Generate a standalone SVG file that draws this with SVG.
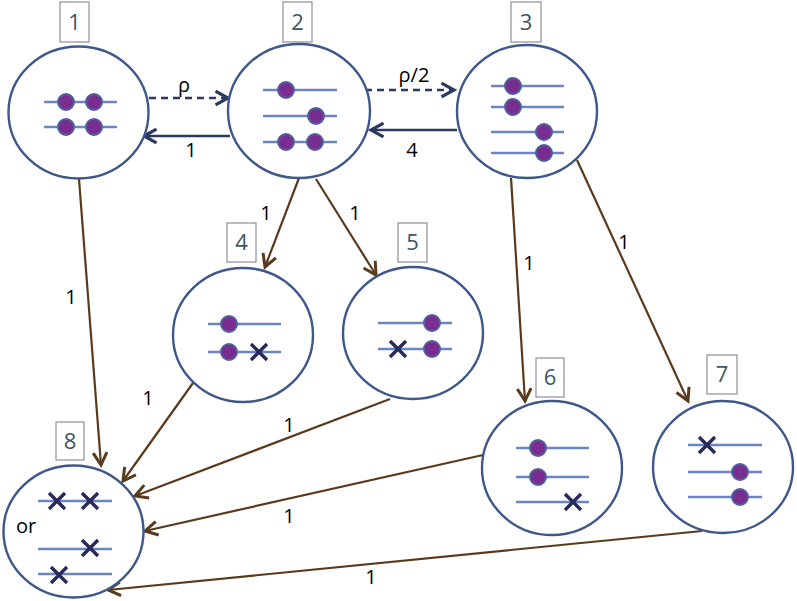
<svg xmlns="http://www.w3.org/2000/svg" width="797" height="601" viewBox="0 0 797 601">
<style>
.c{fill:#fff;stroke:#40578a;stroke-width:2.4}
.l{stroke:#6b85c4;stroke-width:2.4}
.d{fill:#7a2d90;stroke:#4f609c;stroke-width:2}
.x{stroke:#272a5a;stroke-width:3.4;fill:none}
.b{fill:#fff;stroke:#8c8e9e;stroke-width:1.2}
.bt{font-family:"Open Sans","Liberation Sans",sans-serif;font-size:22px;fill:#3d5566;text-anchor:middle}
.t{font-family:"Open Sans","Liberation Sans",sans-serif;font-size:20px;fill:#000;text-anchor:middle}
.br{stroke:#5a3a1c;stroke-width:2.2;fill:none;marker-end:url(#ab)}
.nv{stroke:#2b3a5e;stroke-width:2.6;fill:none;marker-end:url(#an)}
</style>
<defs>
<marker id="ab" markerUnits="userSpaceOnUse" markerWidth="20" markerHeight="20" viewBox="-12 -8 14 16" refX="0" refY="0" orient="auto"><path d="M-10,-5.5 L0,0 L-10,5.5" fill="none" stroke="#5a3a1c" stroke-width="2.4"/></marker>
<marker id="an" markerUnits="userSpaceOnUse" markerWidth="20" markerHeight="20" viewBox="-12 -8 14 16" refX="0" refY="0" orient="auto"><path d="M-10,-5.5 L0,0 L-10,5.5" fill="none" stroke="#2b3a5e" stroke-width="2.6"/></marker>
</defs>
<rect width="797" height="601" fill="#fff"/>
<g id="connectors">
<line class="nv" x1="149" y1="98" x2="228" y2="98" stroke-dasharray="7,5"/>
<line class="nv" x1="230" y1="136" x2="144" y2="136"/>
<line class="nv" x1="365" y1="90" x2="454" y2="90" stroke-dasharray="7,5"/>
<line class="nv" x1="457" y1="130" x2="371" y2="130"/>
<line class="br" x1="79" y1="179" x2="101" y2="465"/>
<line class="br" x1="299" y1="178" x2="265" y2="267"/>
<line class="br" x1="316" y1="179" x2="376" y2="275"/>
<line class="br" x1="511" y1="178" x2="525" y2="401"/>
<line class="br" x1="577" y1="160" x2="688" y2="401"/>
<line class="br" x1="193" y1="383" x2="123" y2="481"/>
<line class="br" x1="390" y1="399" x2="135" y2="496"/>
<line class="br" x1="483" y1="455" x2="145" y2="531"/>
<line class="br" x1="702" y1="531" x2="108" y2="590"/>
<text class="t" x="184" y="92">ρ</text>
<text class="t" x="191" y="157">1</text>
<text class="t" x="414" y="82">ρ/2</text>
<text class="t" x="412" y="157">4</text>
<text class="t" x="71" y="304">1</text>
<text class="t" x="266" y="220">1</text>
<text class="t" x="355" y="220">1</text>
<text class="t" x="529" y="270">1</text>
<text class="t" x="624" y="249">1</text>
<text class="t" x="148" y="405">1</text>
<text class="t" x="289" y="432">1</text>
<text class="t" x="289" y="523">1</text>
<text class="t" x="371" y="584">1</text>
</g>
<g id="n1">
<rect class="b" x="60" y="2" width="29" height="40"/><text class="bt" x="74.5" y="30">1</text>
<ellipse class="c" cx="78.5" cy="112.5" rx="70" ry="66"/>
<line class="l" x1="44" y1="102" x2="117" y2="102"/><line class="l" x1="44" y1="127" x2="117" y2="127"/>
<circle class="d" cx="66" cy="102" r="8"/><circle class="d" cx="94" cy="102" r="8"/>
<circle class="d" cx="66" cy="127" r="8"/><circle class="d" cx="94" cy="127" r="8"/>
</g>
<g id="n2">
<rect class="b" x="283" y="2" width="29" height="40"/><text class="bt" x="297.5" y="30">2</text>
<ellipse class="c" cx="299" cy="111" rx="71" ry="67"/>
<line class="l" x1="263" y1="90" x2="337" y2="90"/><line class="l" x1="263" y1="116" x2="337" y2="116"/><line class="l" x1="263" y1="142" x2="337" y2="142"/>
<circle class="d" cx="286" cy="90" r="8"/><circle class="d" cx="316" cy="116" r="8"/>
<circle class="d" cx="286" cy="142" r="8"/><circle class="d" cx="315" cy="142" r="8"/>
</g>
<g id="n3">
<rect class="b" x="511" y="2" width="30" height="40"/><text class="bt" x="526" y="30">3</text>
<ellipse class="c" cx="527" cy="111.5" rx="70" ry="66.5"/>
<line class="l" x1="491" y1="86" x2="564" y2="86"/><line class="l" x1="491" y1="107" x2="564" y2="107"/><line class="l" x1="491" y1="132" x2="564" y2="132"/><line class="l" x1="491" y1="153" x2="564" y2="153"/>
<circle class="d" cx="513" cy="86" r="8"/><circle class="d" cx="513" cy="107" r="8"/>
<circle class="d" cx="544" cy="132" r="8"/><circle class="d" cx="544" cy="153" r="8"/>
</g>
<g id="n4">
<rect class="b" x="227" y="223" width="29" height="39"/><text class="bt" x="241.5" y="250">4</text>
<ellipse class="c" cx="243" cy="335" rx="70" ry="67"/>
<line class="l" x1="208" y1="324" x2="281" y2="324"/><line class="l" x1="208" y1="352" x2="281" y2="352"/>
<circle class="d" cx="229" cy="324" r="8"/><circle class="d" cx="229" cy="352" r="8"/>
<path class="x" d="M251,344 L267,360 M267,344 L251,360"/>
</g>
<g id="n5">
<rect class="b" x="398" y="223" width="29" height="39"/><text class="bt" x="412.5" y="250">5</text>
<ellipse class="c" cx="413" cy="333" rx="70" ry="66"/>
<line class="l" x1="378" y1="323" x2="452" y2="323"/><line class="l" x1="378" y1="349" x2="452" y2="349"/>
<circle class="d" cx="432" cy="323" r="8"/><circle class="d" cx="432" cy="349" r="8"/>
<path class="x" d="M390,341 L406,357 M406,341 L390,357"/>
</g>
<g id="n6">
<rect class="b" x="536" y="358" width="28" height="39"/><text class="bt" x="550" y="385">6</text>
<ellipse class="c" cx="552" cy="468" rx="70" ry="67"/>
<line class="l" x1="516" y1="448" x2="589" y2="448"/><line class="l" x1="516" y1="477" x2="589" y2="477"/><line class="l" x1="516" y1="502" x2="589" y2="502"/>
<circle class="d" cx="538" cy="448" r="8"/><circle class="d" cx="538" cy="477" r="8"/>
<path class="x" d="M565,494 L581,510 M581,494 L565,510"/>
</g>
<g id="n7">
<rect class="b" x="707" y="355" width="30" height="39"/><text class="bt" x="722" y="382">7</text>
<ellipse class="c" cx="723" cy="467" rx="70" ry="66"/>
<line class="l" x1="688" y1="445" x2="762" y2="445"/><line class="l" x1="688" y1="472" x2="762" y2="472"/><line class="l" x1="688" y1="497" x2="762" y2="497"/>
<path class="x" d="M699,437 L715,453 M715,437 L699,453"/>
<circle class="d" cx="740" cy="472" r="8"/><circle class="d" cx="740" cy="497" r="8"/>
</g>
<g id="n8">
<rect class="b" x="56" y="422" width="28" height="38"/><text class="bt" x="70" y="449">8</text>
<ellipse class="c" cx="73.5" cy="531.5" rx="70" ry="66"/>
<line class="l" x1="38" y1="501" x2="112" y2="501"/><line class="l" x1="38" y1="549" x2="112" y2="549"/><line class="l" x1="38" y1="574" x2="112" y2="574"/>
<path class="x" d="M49,493 L65,509 M65,493 L49,509"/>
<path class="x" d="M82,493 L98,509 M98,493 L82,509"/>
<path class="x" d="M82,540 L98,556 M98,540 L82,556"/>
<path class="x" d="M51,567 L67,583 M67,567 L51,583"/>
<text class="t" x="26" y="533">or</text>
</g>
</svg>
